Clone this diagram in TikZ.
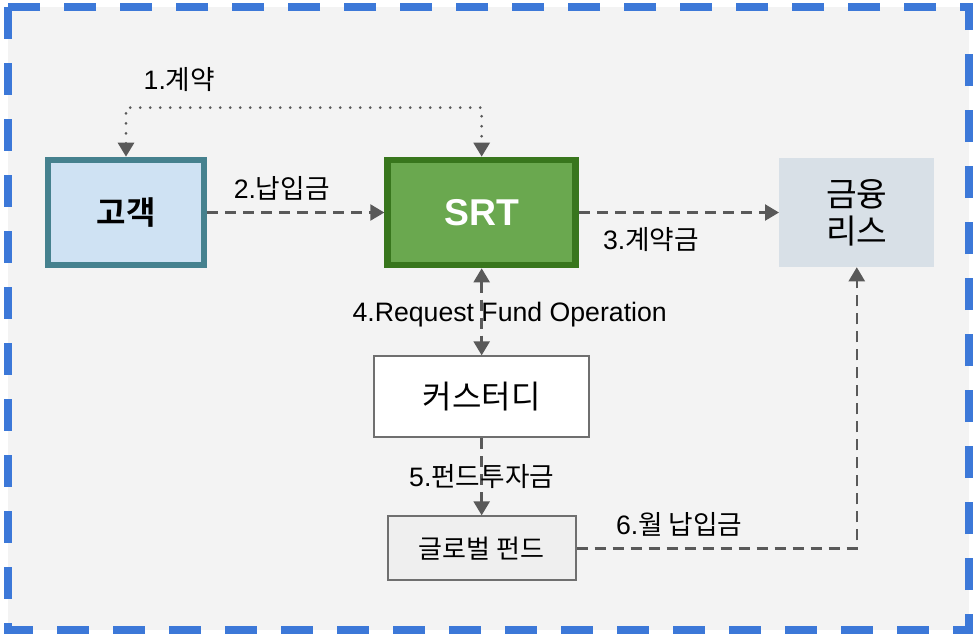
\documentclass[tikz,border=0pt]{standalone}
\usepackage{fontspec}
\setmainfont{Liberation Sans}
\newfontfamily\kr{Noto Sans CJK KR}[BoldFont={Noto Sans CJK KR Bold}]
\usetikzlibrary{arrows.meta, positioning}
\definecolor{frameblue}{HTML}{3C78D8}
\definecolor{panelgray}{HTML}{F3F3F3}
\definecolor{custblue}{HTML}{CFE2F3}
\definecolor{custteal}{HTML}{45818E}
\definecolor{srtgreen}{HTML}{6AA84F}
\definecolor{srtdark}{HTML}{38761D}
\definecolor{leasegray}{HTML}{D8E0E7}
\definecolor{fundgray}{HTML}{EFEFEF}
\definecolor{boxgray}{HTML}{6F6F6F}
\definecolor{arrowgray}{HTML}{595959}
\tikzset{
  box/.style={draw, rectangle, align=center, inner sep=0pt},
  flow/.style={draw=arrowgray, line width=1.8pt, dash pattern=on 8.25pt off 5.25pt, ->,
    >={Triangle[length=10.5pt, width=12pt]}},
  contract/.style={draw=arrowgray, line width=2.2pt, line cap=round,
    dash pattern=on 0pt off 7.5pt, <->, >={Triangle[length=10.5pt, width=12pt]}},
  lbltext/.style={font=\fontsize{20}{24}\selectfont, inner sep=1pt, text=black}
}

\begin{document}
\begin{tikzpicture}[x=0.75pt, y=-0.75pt]
  % Frame
  \useasboundingbox (0,0) rectangle (973,633);
  \fill[white] (0,0) rectangle (973,633);
  \draw[fill=panelgray, draw=frameblue, line width=6pt, dash pattern=on 24pt off 18pt] (8,7) rectangle (969,630);

  % Nodes
  \node (gogaek) [box, fill=custblue, draw=custteal, line width=5pt, minimum width=117pt, minimum height=78.75pt,
    font=\kr\bfseries\fontsize{24}{28}\selectfont] at (126,212.5) {고객};
  \node (srt) [box, fill=srtgreen, draw=srtdark, line width=5pt, minimum width=141pt, minimum height=78.75pt,
    text=white, font=\bfseries\fontsize{28}{32}\selectfont, right=132.75pt of gogaek] {SRT};
  \node (lease) [box, fill=leasegray, draw=none, minimum width=116.25pt, minimum height=81.75pt,
    font=\kr\fontsize{25}{28}\selectfont, right=150pt of srt] {금융\\리스};
  \node (custody) [box, fill=white, draw=boxgray, line width=1.5pt, minimum width=161.25pt, minimum height=60.75pt,
    font=\kr\fontsize{24}{28}\selectfont, below=65.25pt of srt] {커스터디};
  \node (global) [box, fill=fundgray, draw=boxgray, line width=1.5pt, minimum width=141pt, minimum height=48pt,
    font=\kr\fontsize{19.5}{24}\selectfont, below=57.75pt of custody] {글로벌 펀드};

  % Arrows
  \draw[contract] (gogaek.north) -- ++(0,-49) -| node[lbltext, above=10pt, pos=0.075] {1.\kr 계약} (srt.north);
  \draw[flow] (gogaek.east) -- node[lbltext, above=7pt, pos=0.42] {2.\kr 납입금} (srt.west);
  \draw[flow] (srt.east) -- node[lbltext, below=9pt, pos=0.36] {3.\kr 계약금} (lease.west);
  \draw[flow, <->] (srt.south) -- node[lbltext, xshift=21pt, yshift=-2pt] {4.Request Fund Operation} (custody.north);
  \draw[flow] (custody.south) -- node[lbltext] {5.\kr 펀드투자금} (global.north);
  \draw[flow] (global.east) -| node[lbltext, above=7pt, pos=0.183] {6.\kr 월 납입금} (lease.south);
\end{tikzpicture}
\end{document}
